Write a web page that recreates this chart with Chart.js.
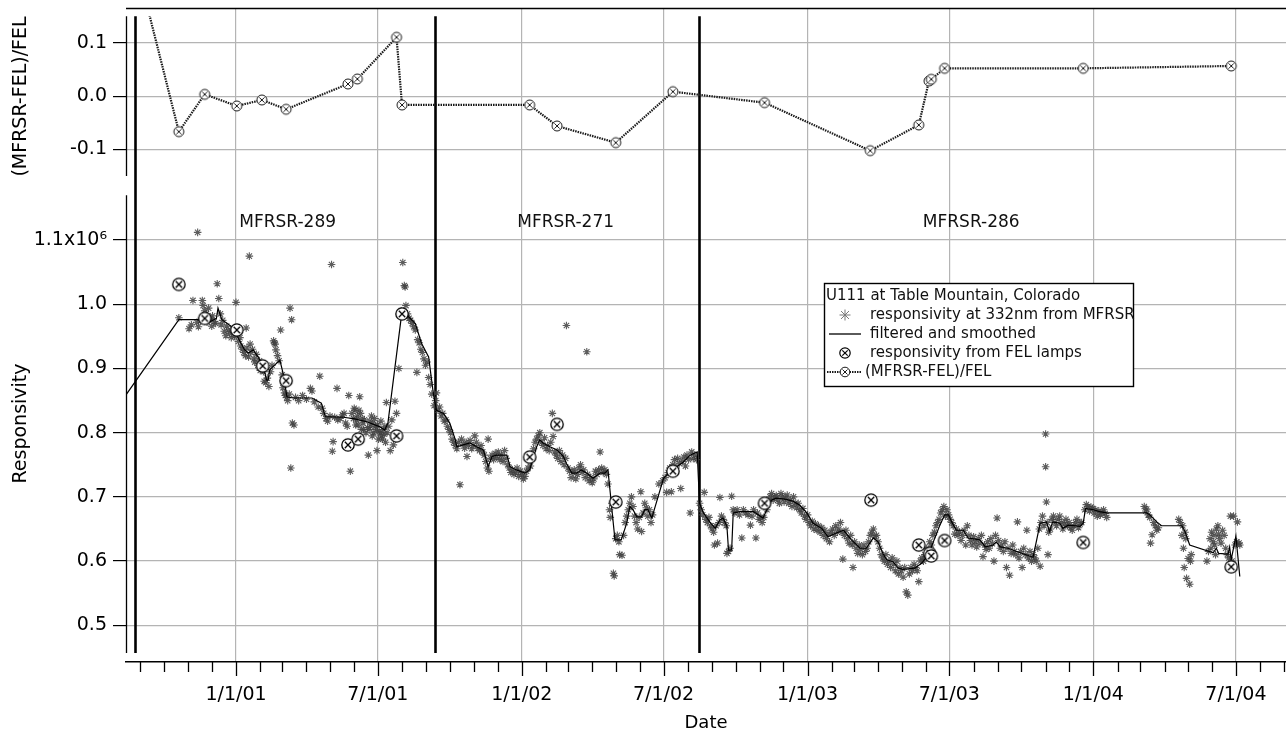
<!DOCTYPE html>
<html>
<head>
<meta charset="utf-8">
<script src="https://cdn.jsdelivr.net/npm/chart.js@4.4.1/dist/chart.umd.min.js"></script>
<style>
  html, body { margin: 0; padding: 0; background: #fff; }
  canvas { display: block; }
</style>
</head>
<body>
<canvas id="chart" width="1286" height="734"></canvas>
<script>
// All x values are days counted from 1 Jan 2001.

// Filtered and smoothed MFRSR responsivity (units of 10^6)
const smoothedPoints = [
  [-140.5,0.859],[-73,0.976],[-46,0.976],[-33,0.973],[-25,0.978],[-23,0.994],[-18,0.976],[-3,0.963],
  [3,0.947],[11,0.929],[16,0.924],[22,0.929],[28,0.918],[35,0.903],[39,0.882],[41,0.882],[43,0.898],
  [56,0.913],[60,0.893],[65,0.856],[73,0.854],[97,0.854],[109,0.846],[114,0.825],[137,0.824],[150,0.822],
  [167,0.817],[184,0.809],[190,0.804],[194,0.815],[212,0.989],[216,0.986],[229,0.970],[237,0.939],
  [246,0.918],[252,0.861],[256,0.835],[265,0.830],[273,0.815],[280,0.789],[282,0.778],[290,0.781],
  [299,0.784],[307,0.778],[316,0.773],[322,0.747],[327,0.763],[333,0.765],[346,0.765],[350,0.747],
  [358,0.742],[369,0.737],[375,0.742],[384,0.778],[388,0.789],[392,0.784],[401,0.778],[410,0.773],
  [418,0.763],[422,0.752],[429,0.737],[435,0.737],[441,0.742],[448,0.737],[456,0.729],[465,0.737],
  [471,0.737],[475,0.742],[478,0.706],[481,0.669],[484,0.633],[492,0.633],[499,0.659],[503,0.685],
  [507,0.680],[512,0.669],[518,0.669],[522,0.680],[526,0.680],[531,0.667],[546,0.729],[554,0.739],
  [563,0.747],[571,0.754],[580,0.765],[589,0.770],
  [592,0.690],[597,0.675],[605,0.661],[612,0.651],[618,0.664],[622,0.667],[627,0.654],[629,0.617],
  [633,0.617],[635,0.675],[644,0.677],[661,0.677],[667,0.672],[673,0.667],[678,0.680],[684,0.695],
  [690,0.698],[703,0.696],[712,0.693],[720,0.687],[729,0.675],[737,0.659],[748,0.651],[756,0.638],
  [765,0.643],[776,0.648],[786,0.633],[797,0.620],[805,0.620],[814,0.636],[820,0.630],[827,0.610],
  [831,0.602],[839,0.599],[846,0.589],[852,0.587],[867,0.589],[876,0.597],[882,0.607],[888,0.622],
  [899,0.656],[905,0.672],[910,0.672],[914,0.661],[920,0.648],[929,0.648],[935,0.636],[950,0.633],
  [957,0.622],[967,0.625],[971,0.630],[976,0.622],[986,0.620],[997,0.615],[1018,0.606],[1027,0.659],
  [1035,0.661],[1039,0.646],[1043,0.661],[1052,0.659],[1056,0.651],[1063,0.656],[1078,0.654],
  [1082,0.659],[1085,0.682],[1095,0.680],[1103,0.677],[1112,0.675],[1163,0.675],[1167,0.672],
  [1176,0.661],[1182,0.655],[1208,0.655],[1212,0.646],[1218,0.625],[1248,0.613],[1252,0.620],
  [1255,0.612],[1267,0.611],[1269,0.622],[1271,0.602],[1277,0.639],[1282,0.576]
];

// Daily responsivity at 332 nm from the MFRSR (units of 10^6)
const mfrsrPoints = [
  // MFRSR-289
  [-73,0.979],[-60,0.962],[-57,0.968],[-55,1.006],[-50,0.972],[-49,1.112],[-48,0.965],[-45,0.975],
  [-43,1.006],[-42,0.998],[-40,0.990],[-38,0.985],[-37,0.972],[-35,0.994],[-33,0.978],[-31,0.966],
  [-30,0.982],[-28,0.973],[-26,0.970],[-24,1.032],[-22,1.009],[-20,0.985],[-19,0.968],[-17,0.975],
  [-15,0.958],[-13,0.951],[-12,0.966],[-10,0.960],[-8,0.955],[-6,0.948],[-4,0.962],[-2,0.950],
  [0,1.003],[1,0.955],[3,0.942],[5,0.948],[6,0.935],[8,0.930],[10,0.925],[12,0.920],[13,0.963],
  [14,0.932],[16,0.918],[17,1.075],[18,0.938],[19,0.925],[21,0.930],[23,0.915],[24,0.910],[26,0.922],
  [28,0.905],[30,0.912],[31,0.897],[33,0.900],[35,0.895],[36,0.880],[38,0.878],[40,0.885],[42,0.872],
  [44,0.895],[46,0.905],[48,0.943],[49,0.940],[50,0.938],[51,0.929],[53,0.920],[55,0.912],[57,0.960],
  [59,0.890],[60,0.870],[62,0.862],[63,0.858],[65,0.855],[66,0.850],[68,0.860],[69,0.994],[70,0.745],
  [71,0.976],[72,0.815],[74,0.812],[76,0.855],[80,0.850],[85,0.858],[90,0.852],[95,0.869],[97,0.865],
  [100,0.848],[105,0.840],[107,0.888],[110,0.838],[112,0.830],[115,0.822],[117,0.818],[120,0.826],
  [122,1.062],[123,0.771],[124,0.786],[126,0.824],[129,0.869],[130,0.820],[133,0.822],[136,0.828],
  [138,0.830],[140,0.815],[142,0.810],[144,0.858],[146,0.740],[148,0.830],[150,0.822],[151,0.838],
  [152,0.835],[153,0.812],[154,0.820],[155,0.826],[156,0.812],[157,0.835],[158,0.856],[159,0.830],
  [160,0.805],[161,0.822],[162,0.815],[163,0.805],[164,0.820],[166,0.800],[168,0.808],[169,0.765],
  [170,0.805],[171,0.818],[172,0.810],[173,0.826],[174,0.795],[175,0.815],[176,0.800],[177,0.822],
  [178,0.810],[179,0.805],[180,0.772],[181,0.812],[182,0.790],[183,0.802],[184,0.800],[185,0.818],
  [186,0.795],[187,0.790],[188,0.805],[189,0.798],[190,0.810],[191,0.785],[192,0.847],[193,0.800],
  [195,0.810],[197,0.772],[199,0.820],[201,0.781],[203,0.849],[205,0.830],[208,0.900],[211,0.990],
  [213,1.065],[215,1.029],[216,1.027],[217,0.998],[219,0.985],[221,0.978],[223,0.975],[225,0.970],
  [227,0.965],[229,0.960],[231,0.894],[232,0.945],[234,0.940],[236,0.930],[238,0.925],[240,0.915],
  [242,0.905],[244,0.910],[246,0.886],[248,0.875],[250,0.860],
  // MFRSR-271
  [253,0.842],[255,0.850],[256,0.862],[258,0.835],[260,0.840],[262,0.826],[264,0.830],[266,0.818],
  [268,0.820],[270,0.810],[272,0.805],[274,0.800],[276,0.790],[278,0.785],[280,0.780],[282,0.775],
  [284,0.785],[286,0.719],[288,0.790],[290,0.782],[292,0.776],[294,0.785],[295,0.763],[297,0.780],
  [299,0.788],[301,0.775],[303,0.780],[305,0.795],[307,0.785],[309,0.776],[311,0.772],[313,0.780],
  [315,0.770],[317,0.765],[319,0.755],[321,0.745],[322,0.790],[323,0.740],[325,0.760],[327,0.765],
  [329,0.758],[331,0.768],[333,0.762],[335,0.770],[337,0.758],[339,0.765],[341,0.755],[343,0.772],
  [345,0.760],[347,0.750],[349,0.745],[351,0.738],[353,0.742],[355,0.735],[357,0.738],[359,0.745],
  [361,0.732],[363,0.740],[365,0.735],[367,0.728],[369,0.732],[371,0.740],[373,0.745],[376,0.748],
  [378,0.760],[380,0.775],[382,0.785],[384,0.790],[386,0.795],[388,0.800],[390,0.785],[392,0.780],
  [394,0.792],[396,0.775],[398,0.780],[400,0.772],[402,0.785],[404,0.830],[405,0.794],[407,0.770],
  [409,0.765],[411,0.760],[413,0.772],[415,0.755],[417,0.765],[419,0.750],[421,0.760],[422,0.967],
  [424,0.745],[426,0.740],[428,0.730],[430,0.738],[432,0.742],[434,0.728],[436,0.735],[438,0.745],
  [440,0.750],[442,0.738],[444,0.742],[446,0.730],[448,0.926],[449,0.735],[451,0.725],[453,0.730],
  [455,0.722],[457,0.728],[459,0.740],[461,0.735],[463,0.742],[465,0.770],[467,0.745],[469,0.738],
  [471,0.742],[473,0.735],[475,0.720],[477,0.680],[478,0.668],[480,0.690],[482,0.581],[483,0.577],
  [485,0.635],[487,0.640],[489,0.630],[490,0.610],[493,0.609],[495,0.640],[497,0.660],[499,0.670],
  [501,0.680],[503,0.690],[505,0.700],[507,0.685],[509,0.670],[511,0.660],[513,0.650],[515,0.668],
  [517,0.708],[518,0.646],[520,0.675],[522,0.690],[524,0.683],[526,0.670],[528,0.680],[530,0.660],
  [532,0.672],[535,0.700],[540,0.720],[545,0.725],[548,0.730],[550,0.707],[552,0.738],[554,0.745],
  [556,0.708],[558,0.750],[560,0.758],[562,0.745],[564,0.760],[566,0.752],[568,0.713],[570,0.755],
  [572,0.762],[574,0.748],[576,0.765],[578,0.758],[580,0.675],[582,0.770],[584,0.760],[586,0.765],
  [588,0.758],
  // MFRSR-286
  [592,0.690],[594,0.680],[596,0.672],[598,0.707],[600,0.665],[602,0.660],[604,0.668],[606,0.655],
  [608,0.650],[610,0.645],[611,0.625],[613,0.655],[615,0.628],[617,0.660],[618,0.699],[620,0.670],
  [622,0.665],[624,0.660],[626,0.655],[627,0.612],[629,0.615],[631,0.620],[633,0.701],[635,0.680],
  [637,0.675],[640,0.680],[643,0.672],[646,0.636],[648,0.680],[651,0.675],[654,0.672],[657,0.656],
  [659,0.670],[661,0.680],[664,0.636],[666,0.675],[668,0.665],[670,0.668],[672,0.660],[674,0.668],
  [676,0.690],[678,0.680],[680,0.693],[682,0.700],[684,0.705],[686,0.695],[688,0.700],[690,0.702],
  [692,0.695],[694,0.690],[696,0.705],[698,0.700],[700,0.692],[702,0.698],[704,0.703],[706,0.690],
  [708,0.695],[710,0.685],[712,0.700],[714,0.690],[716,0.683],[718,0.690],[720,0.680],[722,0.675],
  [724,0.682],[726,0.670],[728,0.665],[730,0.672],[732,0.660],[734,0.655],[736,0.662],[738,0.650],
  [740,0.658],[742,0.648],[744,0.655],[746,0.645],[748,0.652],[750,0.640],[752,0.648],[754,0.635],
  [756,0.642],[758,0.630],[760,0.645],[762,0.650],[764,0.640],[766,0.655],[768,0.645],[770,0.650],
  [772,0.660],[774,0.645],[775,0.603],[777,0.640],[779,0.648],[781,0.635],[783,0.628],[785,0.640],
  [787,0.625],[788,0.590],[790,0.630],[792,0.620],[794,0.612],[796,0.625],[798,0.618],[800,0.610],
  [802,0.625],[804,0.615],[806,0.620],[808,0.630],[810,0.640],[812,0.645],[814,0.650],[816,0.638],
  [818,0.640],[820,0.630],[822,0.620],[824,0.610],[826,0.605],[828,0.600],[830,0.610],[832,0.595],
  [834,0.600],[836,0.590],[838,0.605],[840,0.595],[842,0.585],[844,0.600],[846,0.580],[848,0.590],
  [850,0.585],[852,0.575],[854,0.590],[856,0.552],[858,0.547],[860,0.580],[862,0.590],[864,0.585],
  [866,0.595],[868,0.590],[870,0.585],[872,0.568],[874,0.600],[876,0.605],[878,0.600],[880,0.610],
  [882,0.620],[884,0.615],[886,0.630],[888,0.625],[890,0.640],[892,0.645],[894,0.655],[896,0.660],
  [898,0.665],[900,0.675],[902,0.680],[904,0.685],[906,0.670],[908,0.680],[910,0.672],[912,0.665],
  [914,0.660],[916,0.655],[918,0.642],[920,0.650],[922,0.640],[924,0.645],[926,0.632],[928,0.640],
  [930,0.648],[932,0.625],[934,0.655],[936,0.640],[938,0.632],[940,0.625],[942,0.638],[944,0.630],
  [946,0.622],[948,0.635],[950,0.628],[952,0.640],[954,0.607],[956,0.625],[958,0.618],[960,0.630],
  [962,0.620],[964,0.635],[966,0.627],[968,0.600],[970,0.640],[972,0.667],[974,0.632],[976,0.620],
  [978,0.625],[980,0.615],[982,0.630],[984,0.590],[986,0.620],[988,0.578],[990,0.612],[992,0.625],
  [994,0.615],[996,0.610],[998,0.661],[1000,0.605],[1002,0.615],[1004,0.590],[1006,0.620],[1008,0.610],
  [1010,0.648],[1012,0.605],[1014,0.615],[1016,0.600],[1018,0.610],[1020,0.605],[1022,0.600],
  [1024,0.620],[1026,0.650],[1027,0.592],[1028,0.660],[1030,0.670],[1032,0.655],[1034,0.798],
  [1034,0.747],[1035,0.692],[1036,0.660],[1037,0.610],[1038,0.645],[1040,0.650],[1042,0.665],
  [1044,0.670],[1046,0.660],[1048,0.655],[1050,0.665],[1052,0.670],[1054,0.660],[1056,0.650],
  [1058,0.658],[1060,0.665],[1062,0.655],[1064,0.660],[1066,0.652],[1068,0.648],[1070,0.655],
  [1072,0.660],[1074,0.665],[1076,0.652],[1078,0.658],[1080,0.660],[1084,0.680],[1086,0.688],
  [1088,0.685],[1090,0.678],[1092,0.684],[1094,0.682],[1096,0.675],[1098,0.680],[1100,0.670],
  [1102,0.678],[1104,0.672],[1106,0.676],[1108,0.680],[1110,0.674],[1112,0.668],
  [1160,0.685],[1162,0.678],[1163,0.681],[1165,0.672],[1167,0.668],[1168,0.628],[1170,0.641],
  [1172,0.660],[1174,0.655],[1176,0.648],[1178,0.652],
  [1204,0.665],[1206,0.660],[1208,0.640],[1209,0.655],[1210,0.620],[1211,0.590],[1212,0.645],
  [1213,0.635],[1214,0.573],[1216,0.604],[1218,0.564],[1219,0.600],[1220,0.610],
  [1240,0.600],[1242,0.615],[1244,0.635],[1245,0.620],[1246,0.645],[1248,0.630],[1249,0.640],
  [1250,0.625],[1251,0.610],[1252,0.650],[1254,0.655],[1255,0.642],[1256,0.635],[1258,0.628],
  [1260,0.648],[1262,0.640],[1264,0.620],[1266,0.610],[1268,0.605],[1270,0.670],[1272,0.600],
  [1274,0.670],[1276,0.625],[1278,0.630],[1279,0.661],[1281,0.628],[1282,0.625]
];

// Responsivity from FEL lamp calibrations (units of 10^6)
const felPoints = [
  [-73,1.031],[-40,0.978],[1,0.960],[34,0.904],[64,0.881],[143,0.781],[156,0.790],[205,0.795],
  [212,0.985],[375,0.762],[410,0.813],[485,0.692],[558,0.740],[675,0.690],[811,0.695],[872,0.625],
  [886,0.612],[888,0.608],[905,0.632],[1082,0.629],[1271,0.591]
];

// Relative difference (MFRSR-FEL)/FEL at each lamp calibration
const diffPoints = [
  [-123,0.225],[-73,-0.0665],[-40,0.0036],[1,-0.0183],[33,-0.007],[64,-0.0245],[143,0.023],
  [155,0.0324],[205,0.1107],[212,-0.0164],[375,-0.0164],[410,-0.0559],[485,-0.0872],[558,0.0086],
  [675,-0.0121],[810,-0.1022],[872,-0.054],[885,0.0286],[888,0.0318],[905,0.0524],[1082,0.0524],
  [1271,0.0568]
];

// Instrument swaps and the name of each deployed radiometer
const instrumentChangeDays = [-129, 254, 591.5];
const instrumentNames = ['MFRSR-289', 'MFRSR-271', 'MFRSR-286'];
const instrumentLabelDays = [66, 421, 939];

// Axis ticks
const dateTickLabels = ['1/1/01', '7/1/01', '1/1/02', '7/1/02', '1/1/03', '7/1/03', '1/1/04', '7/1/04'];
const responsivityTicks = [0.5, 0.6, 0.7, 0.8, 0.9, 1.0, 1.1];
const differenceTicks = [-0.1, 0.0, 0.1];

const FONT = 'DejaVu Sans';
const GRID = 'rgb(180,180,180)';

const DAY0 = Date.UTC(2001, 0, 1);
const toDay = (y, m, d) => (Date.UTC(y, m - 1, d) - DAY0) / 86400000;
const labelToDay = (s) => { const [m, d, y] = s.split('/').map(Number); return toDay(2000 + y, m, d); };
const xy = (pairs) => pairs.map(([x, y]) => ({ x, y }));

// Circle-with-cross marker used for the lamp calibrations
function circleCross(r, lw, arm, color) {
  const s = 2 * Math.ceil(r + lw + 1);
  const c = document.createElement('canvas');
  c.width = s; c.height = s;
  const g = c.getContext('2d');
  const m = s / 2;
  g.fillStyle = '#fff';
  g.strokeStyle = color;
  g.lineWidth = lw;
  g.beginPath(); g.arc(m, m, r, 0, Math.PI * 2); g.fill(); g.stroke();
  g.beginPath();
  g.moveTo(m - arm, m - arm); g.lineTo(m + arm, m + arm);
  g.moveTo(m + arm, m - arm); g.lineTo(m - arm, m + arm);
  g.stroke();
  return c;
}
const felMarker = circleCross(6.2, 1.3, 3.2, '#000');
const diffMarker = circleCross(5.0, 1.0, 2.6, '#1a1a1a');
const legendFelMarker = circleCross(5.2, 1.2, 2.7, '#000');
const legendDiffMarker = circleCross(4.8, 1.0, 2.5, '#1a1a1a');

// Month starts for the minor date ticks
const monthDays = [];
for (let y = 2000; y <= 2004; y++) {
  for (let m = 1; m <= 12; m++) monthDays.push(toDay(y, m, 1));
}
const majorDays = dateTickLabels.map(labelToDay);

const decorations = {
  id: 'decorations',
  beforeDatasetsDraw(chart) {
    const { ctx, scales: { x, yTop, yBot } } = chart;
    const top = yTop.getPixelForValue(0.15);
    const bottom = yBot.getPixelForValue(0.457);
    ctx.save();
    ctx.strokeStyle = '#000';
    ctx.lineWidth = 2.6;
    instrumentChangeDays.forEach((d) => {
      const px = Math.round(x.getPixelForValue(d)) + 0.5;
      ctx.beginPath(); ctx.moveTo(px, top); ctx.lineTo(px, bottom); ctx.stroke();
    });
    // instrument names
    ctx.fillStyle = '#111';
    ctx.font = `17px "${FONT}"`;
    ctx.textAlign = 'center';
    ctx.textBaseline = 'middle';
    instrumentNames.forEach((n, i) => {
      ctx.fillText(n, x.getPixelForValue(instrumentLabelDays[i]), yBot.getPixelForValue(1.128));
    });
    ctx.restore();
  },
  beforeDatasetDraw(chart, args) {
    if (args.meta.yAxisID !== 'yTop') return;
    const { ctx, chartArea, scales: { yTop } } = chart;
    const t = yTop.getPixelForValue(0.15);
    const b = yTop.getPixelForValue(-0.15);
    ctx.save();
    ctx.beginPath();
    ctx.rect(chartArea.left, t, chartArea.right - chartArea.left, b - t);
    ctx.clip();
  },
  afterDatasetDraw(chart, args) {
    if (args.meta.yAxisID !== 'yTop') return;
    chart.ctx.restore();
  },
  afterDatasetsDraw(chart) {
    const { ctx, chartArea, scales: { x, yTop, yBot } } = chart;
    const L = chartArea.left;
    ctx.save();
    ctx.strokeStyle = '#000';
    ctx.lineWidth = 1.5;
    // top frame line
    ctx.beginPath(); ctx.moveTo(L, chartArea.top + 0.5); ctx.lineTo(chartArea.right, chartArea.top + 0.5); ctx.stroke();
    // left axis lines of both panels
    ctx.lineWidth = 1.3;
    ctx.beginPath();
    ctx.moveTo(L + 0.5, yTop.getPixelForValue(0.15)); ctx.lineTo(L + 0.5, yTop.getPixelForValue(-0.15));
    ctx.moveTo(L + 0.5, yBot.getPixelForValue(1.170)); ctx.lineTo(L + 0.5, yBot.getPixelForValue(0.457));
    ctx.stroke();
    // date ticks: long at Jan/Jul, short at other months
    const yb = chartArea.bottom;
    monthDays.forEach((d) => {
      if (d < x.min || d > x.max) return;
      const px = Math.round(x.getPixelForValue(d)) + 0.5;
      const len = majorDays.includes(d) ? 14 : 10;
      ctx.beginPath(); ctx.moveTo(px, yb); ctx.lineTo(px, yb + len); ctx.stroke();
    });

    // legend
    const bx = 824, by = 283, bw = 309, bh = 103;
    ctx.fillStyle = '#fff';
    ctx.fillRect(bx, by, bw, bh);
    ctx.strokeStyle = '#000';
    ctx.lineWidth = 1.4;
    ctx.strokeRect(bx + 0.5, by + 0.5, bw, bh);
    ctx.fillStyle = '#111';
    ctx.font = `15px "${FONT}"`;
    ctx.textAlign = 'left';
    ctx.textBaseline = 'middle';
    ctx.fillText('U111 at Table Mountain, Colorado', bx + 2, by + 13);
    const rows = [by + 32, by + 51, by + 70, by + 89];
    ctx.fillText('responsivity at 332nm from MFRSR', bx + 46, rows[0]);
    ctx.fillText('filtered and smoothed', bx + 46, rows[1]);
    ctx.fillText('responsivity from FEL lamps', bx + 46, rows[2]);
    ctx.fillText('(MFRSR-FEL)/FEL', bx + 41, rows[3]);
    const sx = bx + 21;
    // asterisk
    ctx.strokeStyle = 'rgb(120,120,120)';
    ctx.lineWidth = 1;
    ctx.beginPath();
    const a = 5.5, q = a * 0.72;
    ctx.moveTo(sx - a, rows[0]); ctx.lineTo(sx + a, rows[0]);
    ctx.moveTo(sx, rows[0] - a); ctx.lineTo(sx, rows[0] + a);
    ctx.moveTo(sx - q, rows[0] - q); ctx.lineTo(sx + q, rows[0] + q);
    ctx.moveTo(sx + q, rows[0] - q); ctx.lineTo(sx - q, rows[0] + q);
    ctx.stroke();
    // solid line
    ctx.strokeStyle = '#000';
    ctx.lineWidth = 1.3;
    ctx.beginPath(); ctx.moveTo(bx + 5, rows[1]); ctx.lineTo(bx + 37, rows[1]); ctx.stroke();
    // FEL marker
    ctx.drawImage(legendFelMarker, sx - legendFelMarker.width / 2, rows[2] - legendFelMarker.height / 2);
    // dotted line with marker
    ctx.strokeStyle = '#1a1a1a';
    ctx.lineWidth = 2.2;
    ctx.setLineDash([1.5, 1]);
    ctx.beginPath(); ctx.moveTo(bx + 3, rows[3]); ctx.lineTo(bx + 38, rows[3]); ctx.stroke();
    ctx.setLineDash([]);
    ctx.drawImage(legendDiffMarker, sx - legendDiffMarker.width / 2, rows[3] - legendDiffMarker.height / 2);
    ctx.restore();
  }
};

const tickFont = { family: FONT, size: 19 };

new Chart(document.getElementById('chart'), {
  type: 'scatter',
  data: {
    datasets: [
      {
        label: 'responsivity from FEL lamps',
        data: xy(felPoints),
        yAxisID: 'yBot',
        pointStyle: felMarker,
        pointRadius: 6,
        showLine: false
      },
      {
        label: 'filtered and smoothed',
        data: xy(smoothedPoints),
        yAxisID: 'yBot',
        showLine: true,
        borderColor: '#000',
        borderWidth: 1.2,
        pointRadius: 0,
        tension: 0
      },
      {
        label: 'responsivity at 332nm from MFRSR',
        data: xy(mfrsrPoints),
        yAxisID: 'yBot',
        pointStyle: 'star',
        pointRadius: 3.8,
        borderColor: 'rgba(65,65,65,0.85)',
        backgroundColor: 'rgba(65,65,65,0.85)',
        borderWidth: 1.1,
        showLine: false
      },
      {
        label: '(MFRSR-FEL)/FEL',
        data: xy(diffPoints),
        yAxisID: 'yTop',
        showLine: true,
        borderColor: '#1a1a1a',
        borderWidth: 2.2,
        borderDash: [1.5, 1],
        pointStyle: diffMarker,
        pointRadius: 5,
        tension: 0
      }
    ]
  },
  options: {
    responsive: false,
    animation: false,
    devicePixelRatio: 1,
    layout: { autoPadding: false, padding: { top: 8, right: 0, bottom: 0, left: 0 } },
    plugins: { legend: { display: false }, tooltip: { enabled: false } },
    scales: {
      x: {
        type: 'linear',
        position: 'bottom',
        min: -140.5,
        max: 1341,
        afterBuildTicks: (s) => { s.ticks = majorDays.map((v) => ({ value: v })); },
        afterFit: (s) => { s.height = 72; s.paddingLeft = 0; s.paddingRight = 0; },
        ticks: {
          callback: (v, i) => dateTickLabels[i],
          font: tickFont, color: '#000', padding: 0, maxRotation: 0, autoSkip: false
        },
        grid: { color: GRID, lineWidth: 1.2, drawTicks: true, tickLength: 22, tickColor: 'rgba(0,0,0,0)' },
        border: { display: true, color: '#000', width: 1.5 },
        title: { display: true, text: 'Date', font: { family: FONT, size: 18 }, color: '#000', padding: { top: 0, bottom: 0 } }
      },
      yTop: {
        type: 'linear',
        position: 'left',
        stack: 'panels',
        stackWeight: 177,
        weight: 2,
        min: -0.1667,
        max: 0.1657,
        afterBuildTicks: (s) => { s.ticks = differenceTicks.map((v) => ({ value: v })); },
        afterFit: (s) => { s.width = 126; s.paddingTop = 0; s.paddingBottom = 0; },
        ticks: { callback: (v) => v.toFixed(1), font: tickFont, color: '#000', padding: 6 },
        grid: { color: GRID, lineWidth: 1.2, tickLength: 13, tickColor: '#000', tickWidth: 1.2 },
        border: { display: false },
        title: { display: true, text: '(MFRSR-FEL)/FEL', font: tickFont, color: '#000', padding: { top: 10, bottom: 0 } }
      },
      yBot: {
        type: 'linear',
        position: 'left',
        stack: 'panels',
        stackWeight: 477,
        weight: 1,
        min: 0.4428,
        max: 1.1858,
        afterBuildTicks: (s) => { s.ticks = responsivityTicks.map((v) => ({ value: v })); },
        afterFit: (s) => { s.width = 126; s.paddingTop = 0; s.paddingBottom = 0; },
        ticks: {
          callback: (v) => (v > 1.05 ? '1.1x10\u2076' : v.toFixed(1)),
          font: tickFont, color: '#000', padding: 6
        },
        grid: { color: GRID, lineWidth: 1.2, tickLength: 13, tickColor: '#000', tickWidth: 1.2 },
        border: { display: false },
        title: { display: true, text: 'Responsivity', font: tickFont, color: '#000', padding: { top: 10, bottom: 0 } }
      }
    }
  },
  plugins: [decorations]
});
</script>
</body>
</html>
